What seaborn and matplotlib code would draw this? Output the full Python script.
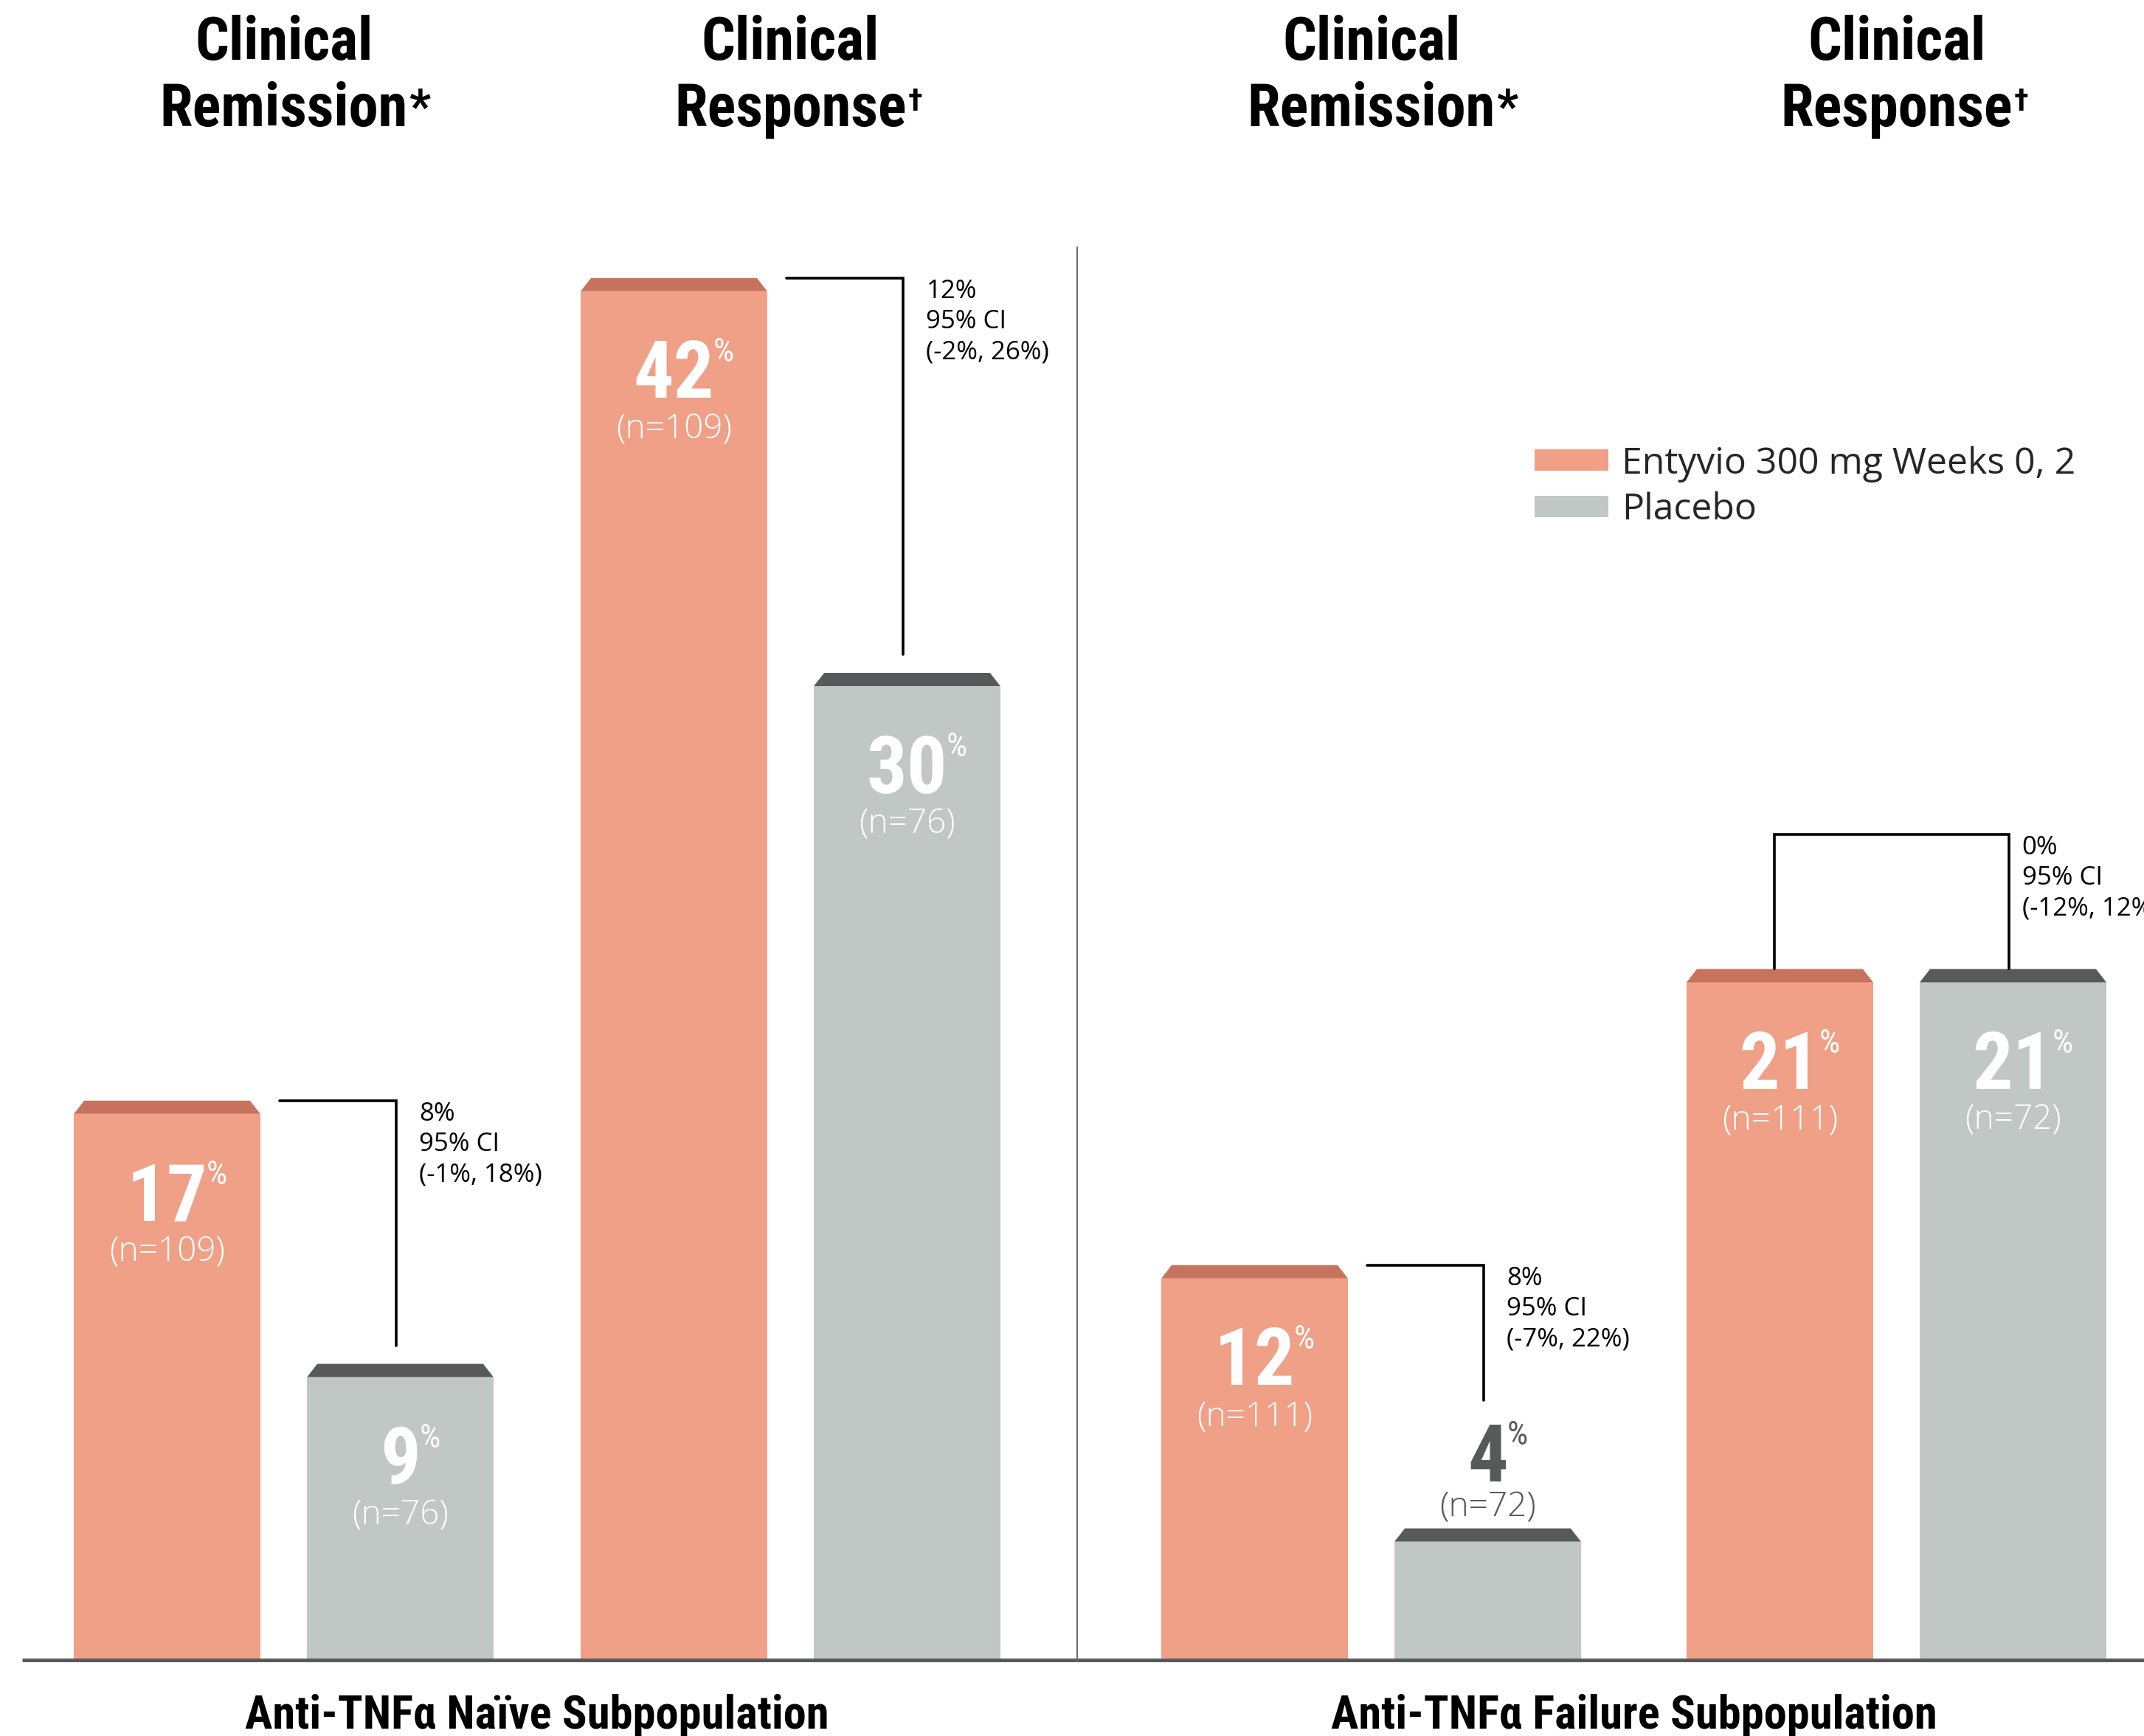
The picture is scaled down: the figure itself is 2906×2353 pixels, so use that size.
import matplotlib
matplotlib.use("Agg")
import matplotlib.pyplot as plt
from matplotlib import font_manager
from matplotlib.patches import Polygon
import pandas as pd
import seaborn as sns

# ---------------- data ----------------
subpopulations = ["Anti-TNFα Naïve Subpopulation", "Anti-TNFα Failure Subpopulation"]
endpoints = ["Clinical\nRemission*", "Clinical\nResponse†", "Clinical\nRemission*", "Clinical\nResponse†"]
treatments = ["Entyvio 300 mg Weeks 0, 2", "Placebo"]
entyvio_pct = [17, 42, 12, 21]
placebo_pct = [9, 30, 4, 21]
entyvio_n = [109, 109, 111, 111]
placebo_n = [76, 76, 72, 72]
diff_pct = [8, 12, 8, 0]
ci_low = [-1, -2, -7, -12]
ci_high = [18, 26, 22, 12]

# ---------------- style ----------------
ENTYVIO = "#EFA086"
ENTYVIO_TOP = "#C7735D"
PLACEBO = "#C1C7C4"
PLACEBO_TOP = "#58595B"
DARK = "#58595B"
MARK_SIZE = {"*": 46, "†": 30}      # footnote marks on the headings

sns.set_style("white")
available = {f.name for f in font_manager.fontManager.ttflist}


def first_available(*names):
    for name in names:
        if name in available:
            return name
    return "DejaVu Sans"


COND = [first_available("Roboto Condensed", "Liberation Sans Narrow", "Open Sans Condensed",
                        "Noto Sans Condensed"), "DejaVu Sans"]
BOOK = [first_available("Open Sans", "Lato", "Noto Sans"), "DejaVu Sans"]
plt.rcParams["font.family"] = BOOK

# ---------------- layout ----------------
W, H, DPI = 2906, 2353, 100
BASE_PX = 2250          # baseline, pixels from the top
PX_PER_PCT = 44.6       # vertical scale
group_x = [384.5, 1071.5, 1858.5, 2570.5]
PAIR_OFF = 158
BEVEL = 18 / PX_PER_PCT
INSET = 14


def y_from_top(px):
    return (BASE_PX - px) / PX_PER_PCT


rows = []
for i, gx in enumerate(group_x):
    rows.append(dict(x=gx - PAIR_OFF, pct=entyvio_pct[i], n=entyvio_n[i], treatment=treatments[0], group=i))
    rows.append(dict(x=gx + PAIR_OFF, pct=placebo_pct[i], n=placebo_n[i], treatment=treatments[1], group=i))
df = pd.DataFrame(rows)

fig = plt.figure(figsize=(W / DPI, H / DPI), dpi=DPI)
ax = fig.add_axes([0, 0, 1, 1])
sns.barplot(data=df, x="x", y="pct", hue="treatment", hue_order=treatments,
            palette=[ENTYVIO, PLACEBO], native_scale=True, width=0.8,
            errorbar=None, saturation=1, linewidth=0, ax=ax)
ax.set_xlim(0, W)
ax.set_ylim(y_from_top(H), y_from_top(0))
ax.axis("off")

# bevelled caps on top of each bar
for k, container in enumerate(ax.containers):
    top_color = [ENTYVIO_TOP, PLACEBO_TOP][k]
    for bar in container:
        x0, w, h = bar.get_x(), bar.get_width(), bar.get_height()
        bar.set_height(h - BEVEL)
        ax.add_patch(Polygon([(x0, h - BEVEL), (x0 + w, h - BEVEL), (x0 + w - INSET, h), (x0 + INSET, h)],
                             closed=True, facecolor=top_color, edgecolor="none", zorder=3))

# baseline and panel divider
ax.plot([30, W], [0, 0], color=DARK, lw=3.6, solid_capstyle="butt", zorder=5)
ax.plot([1460, 1460], [0, y_from_top(335)], color="#6D6E71", lw=1.5, zorder=5)

LABEL_DEPTH_PX = 240


def value_label(x, pct, n):
    inside = pct * PX_PER_PCT > LABEL_DEPTH_PX
    color = "white" if inside else DARK
    base_off, n_off = (-117, -148) if inside else (46, 20)
    num = ax.annotate(f"{pct}", xy=(x, pct), xytext=(0, base_off), textcoords="offset points",
                      ha="center", va="baseline", fontsize=78, fontweight="bold",
                      family=COND, color=color, zorder=6)
    ax.annotate("%", xy=(1, 1), xycoords=num, xytext=(-1, 1), textcoords="offset points",
                ha="left", va="top", fontsize=32, fontweight="normal", family=COND,
                color=color, zorder=6)
    ax.annotate(f"(n={n})", xy=(x, pct), xytext=(0, n_off), textcoords="offset points",
                ha="center", va="center", fontsize=33, fontweight="light", family=BOOK,
                color=color, zorder=6)
    return inside


def heading(x, label):
    first, second = label.split("\n")
    mark = ""
    if second and second[-1] in MARK_SIZE:
        second, mark = second[:-1], second[-1]
    trans = ax.get_xaxis_transform()
    style = dict(transform=trans, ha="center", va="top", fontsize=58, fontweight="bold",
                 family=COND, color="black")
    ax.text(x, 1 - 20 / H, first, **style)
    line2 = ax.text(x, 1 - 110 / H, second, **style)
    if mark:
        ax.annotate(mark, xy=(1, 1), xycoords=line2, xytext=(1, -6), textcoords="offset points",
                    ha="left", va="top", fontsize=MARK_SIZE[mark], fontweight="bold",
                    family=COND, color="black")


BR_LW = 2.6
for i, gx in enumerate(group_x):
    ex, px = gx - PAIR_OFF, gx + PAIR_OFF
    e, p = entyvio_pct[i], placebo_pct[i]
    value_label(ex, e, entyvio_n[i])
    p_inside = value_label(px, p, placebo_n[i])
    half_w = 0.8 * PAIR_OFF
    vx = px - 6
    if e == p:
        top = max(e, p) + 4.1
        ax.plot([ex - 8, ex - 8, vx, vx], [e, top, top, p], color="black", lw=BR_LW,
                solid_joinstyle="miter", zorder=4)
        ci_y, ci_dx = top, 13
    else:
        end = p + 0.55 if p_inside else p + 3.9
        ax.plot([ex + half_w + 26, vx, vx], [e, e, end], color="black", lw=BR_LW,
                solid_joinstyle="miter", zorder=4)
        ci_y, ci_dx = e, 23
    ax.annotate(f"{diff_pct[i]}%\n95% CI\n({ci_low[i]}%, {ci_high[i]}%)", xy=(vx, ci_y),
                xytext=(ci_dx, -1), textcoords="offset points", ha="left", va="top",
                fontsize=25, linespacing=1.28, family=BOOK, color="black", zorder=6)
    heading(gx, endpoints[i])

# subpopulation captions
for j, name in enumerate(subpopulations):
    cx = (group_x[2 * j] + group_x[2 * j + 1]) / 2
    ax.text(cx, 1 - 2326 / H, name, transform=ax.get_xaxis_transform(), ha="center", va="center",
            fontsize=45, fontweight="bold", family=COND, color="black")

sns.move_legend(ax, "upper left", bbox_to_anchor=(2080 / W, 1 - 604 / H), frameon=False, title=None,
                borderaxespad=0, borderpad=0, handlelength=2.0, handleheight=0.52,
                handletextpad=0.37, labelspacing=0.27, prop={"family": BOOK, "size": 36})

fig.savefig("out.png", dpi=DPI)
